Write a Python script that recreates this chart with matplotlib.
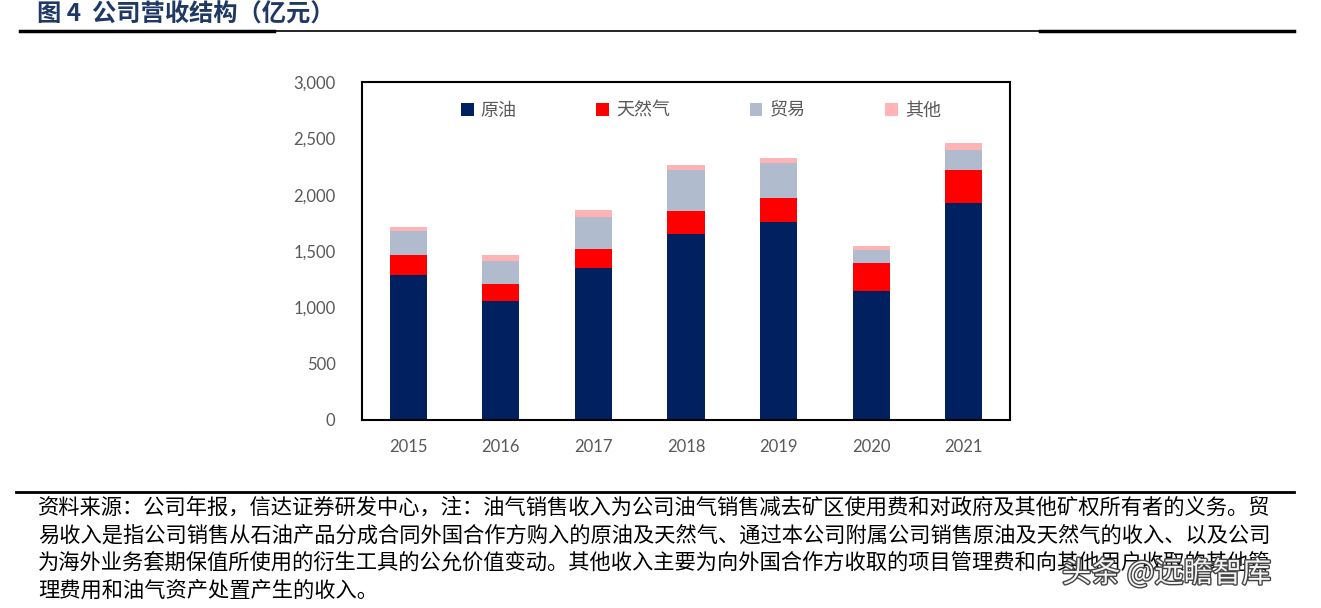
import numpy as np
import matplotlib.pyplot as plt
import matplotlib.patheffects as pe

plt.rcParams['font.family'] = ['Lato', 'Noto Sans CJK SC', 'DejaVu Sans']

years = ['2015', '2016', '2017', '2018', '2019', '2020', '2021']
crude = [1283, 1055, 1348, 1653, 1757, 1147, 1929]
gas = [181, 154, 172, 202, 216, 246, 290]
trade = [210, 201, 281, 364, 309, 118, 181]
other = [36, 54, 63, 48, 44, 36, 62]
series_names = ['原油', '天然气', '贸易', '其他']
colors = ['#002060', '#ff0000', '#b0bccd', '#ffb3b5']

title = '图 4  公司营收结构（亿元）'
note_lines = [
    '资料来源：公司年报，信达证券研发中心，注：油气销售收入为公司油气销售减去矿区使用费和对政府及其他矿权所有者的义务。贸',
    '易收入是指公司销售从石油产品分成合同外国合作方购入的原油及天然气、通过本公司附属公司销售原油及天然气的收入、以及公司',
    '为海外业务套期保值所使用的衍生工具的公允价值变动。其他收入主要为向外国合作方收取的项目管理费和向其他用户收取的其他管',
    '理费用和油气资产处置产生的收入。',
]

W, H = 1321, 608
fig = plt.figure(figsize=(W / 100, H / 100), dpi=100)

# header with rule
fig.text(37 / W, 1 - 15 / H, title, fontsize=17.5, fontweight='bold', color='#1f3864',
         family=['Noto Sans CJK SC', 'DejaVu Sans'], va='center', ha='left')
fig.add_artist(plt.Line2D([20 / W, 274 / W], [1 - 31 / H] * 2, color='black', lw=2.5))
fig.add_artist(plt.Line2D([274 / W, 1040 / W], [1 - 31 / H] * 2, color='black', lw=1.2))
fig.add_artist(plt.Line2D([1040 / W, 1294 / W], [1 - 31 / H] * 2, color='black', lw=2.5))

ax = fig.add_axes([362 / W, 1 - 420 / H, 648 / W, 338 / H])
x = np.arange(len(years))
bottom = np.zeros(len(years))
for name, vals, c in zip(series_names, [crude, gas, trade, other], colors):
    ax.bar(x, vals, width=0.4, bottom=bottom, color=c, label=name)
    bottom += np.array(vals)

ax.set_xlim(-0.5, len(years) - 0.5)
ax.set_ylim(0, 3000)
ax.set_yticks(np.arange(0, 3001, 500))
ax.set_yticklabels([f'{v:,}' for v in range(0, 3001, 500)])
ax.set_xticks(x)
ax.set_xticklabels(years)
ax.tick_params(length=0, labelsize=12, colors='#595959', pad=14)
ax.tick_params(axis='y', pad=19)
for s in ax.spines.values():
    s.set_linewidth(1.5)
    s.set_color('black')

ax.legend(loc='center', bbox_to_anchor=(0.523, 0.917), ncol=4, frameon=False,
          fontsize=13, handlelength=0.7, handleheight=0.7, handletextpad=0.4,
          columnspacing=4.4, labelcolor='#595959')

# footer
fig.add_artist(plt.Line2D([16 / W, 1294 / W], [1 - 492 / H] * 2, color='black', lw=2))
for i, line in enumerate(note_lines):
    fig.text(38 / W, 1 - (508 + 27.5 * i) / H, line, fontsize=15.3, color='black',
             family=['Noto Sans CJK SC', 'DejaVu Sans'], va='center', ha='left')

fig.text(1062 / W, 1 - 574 / H, '头条 @远瞻智库', fontsize=21, color='#f4f4f4',
         family=['Noto Sans CJK SC', 'DejaVu Sans'], va='center', ha='left',
         path_effects=[pe.withStroke(linewidth=2, foreground='#444444')])

fig.savefig('out.png', dpi=100)
